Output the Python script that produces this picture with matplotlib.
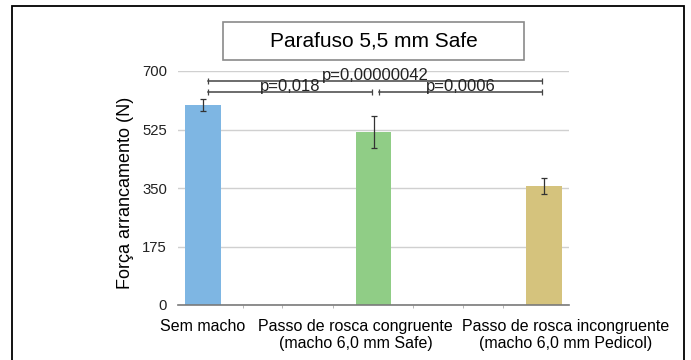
import matplotlib
matplotlib.use("Agg")
import matplotlib.pyplot as plt
from matplotlib.patches import Rectangle
from matplotlib.transforms import ScaledTranslation

plt.rcParams['font.family'] = ['Liberation Sans', 'DejaVu Sans']

# data
categories = ["Sem macho",
              "Passo de rosca congruente\n(macho 6,0 mm Safe)",
              "Passo de rosca incongruente\n(macho 6,0 mm Pedicol)"]
forca = [598, 517, 356]
erro = [17, 48, 25]
cores = ["#7eb6e3", "#90cd86", "#d5c37d"]

# comparisons: (bar a, bar b, height of bracket, label)
comparacoes = [(0, 2, 671, "p=0,00000042"),
               (0, 1, 638, "p=0,018"),
               (1, 2, 638, "p=0,0006")]

yticks = [0, 175, 350, 525, 700]

fig = plt.figure(figsize=(6.91, 3.6), dpi=100)
ax = fig.add_axes([178 / 691, 55 / 360, 391 / 691, 234 / 360])

x = list(range(len(categories)))
ax.bar(x, forca, width=0.21, color=cores, zorder=2)
ax.errorbar(x, forca, yerr=erro, fmt="none", ecolor="#333333",
            elinewidth=0.9, capsize=2.5, capthick=0.9, zorder=3)

for a, b, h, txt in comparacoes:
    x0, x1 = a + 0.03, b - 0.01
    ax.plot([x0, x1], [h, h], color="#444444", lw=1.1, zorder=4)
    ax.plot([x0, x1], [h, h], ls="none", marker="|", ms=4,
            mew=0.9, color="#444444", zorder=4)
    ax.text((x0 + x1) / 2, h + 1, txt, ha="center", va="baseline",
            fontsize=12, color="#222222", zorder=5)

ax.set_xlim(-0.147, 2.147)
ax.set_ylim(0, 700)
ax.set_yticks(yticks)
ax.set_xticks(x)
ax.set_xticklabels(categories, fontsize=11.5)
ax.set_xticks([0.233, 0.465, 0.764, 1.233, 1.526, 1.76], minor=True)
ax.tick_params(axis="x", which="major", length=0, pad=10)
ax.tick_params(axis="x", which="minor", length=2, color="#aaaaaa")
ax.tick_params(axis="y", length=0, pad=8, labelsize=10.7, labelcolor="#222222")
ax.grid(axis="y", color="#d0d0d0", lw=1, zorder=0)
ax.set_axisbelow(True)
for s in ["top", "right", "left"]:
    ax.spines[s].set_visible(False)
ax.spines["bottom"].set_color("#7a7a7a")
ax.spines["bottom"].set_linewidth(1.2)
ax.spines["bottom"].set_zorder(3)

# the long labels sit a bit off-centre in the original so they don't collide
for lbl, dx in zip(ax.get_xticklabels(), [0, -18, 22]):
    lbl.set_transform(lbl.get_transform() + ScaledTranslation(dx / 100, 0, fig.dpi_scale_trans))

fig.text(125 / 691, 1 - 193 / 360, "Força arrancamento (N)", rotation=90,
         ha="center", va="center", fontsize=13)

# title box
fig.patches.append(Rectangle((222.7 / 691, 1 - 60 / 360), 301.3 / 691, 38 / 360,
                             transform=fig.transFigure, fill=False,
                             edgecolor="#8a8a8a", lw=1.2))
fig.text(373.4 / 691, 1 - 41 / 360, "Parafuso 5,5 mm Safe",
         ha="center", va="center", fontsize=15)

# outer frame
fig.patches.append(Rectangle((11.7 / 691, -0.02), 672.3 / 691, 1.0033,
                             transform=fig.transFigure, fill=False,
                             edgecolor="black", lw=1.3))

fig.savefig("out.png", dpi=100)
